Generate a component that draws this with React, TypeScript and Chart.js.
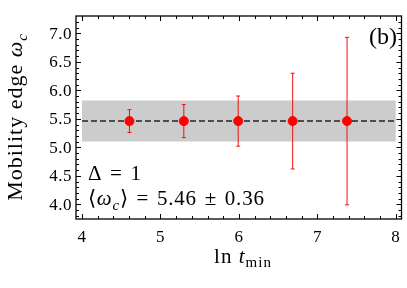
import React, { useEffect, useRef } from "react";
import { Chart, registerables } from "chart.js";

Chart.register(...registerables);

// ---- data ----
const lnTmin: number[] = [4.605, 5.298, 5.991, 6.685, 7.378];
const omegaC: number[] = [5.46, 5.46, 5.46, 5.46, 5.46];
const omegaErr: number[] = [0.2, 0.29, 0.44, 0.84, 1.47];
const meanOmega = 5.46;
const sdOmega = 0.36;
const bandX: number[] = [4, 8];
const xMajorTicks: number[] = [4, 5, 6, 7, 8];
const xTickLabels: string[] = ["4", "5", "6", "7", "8"];
const yMajorTicks: number[] = [4.0, 4.5, 5.0, 5.5, 6.0, 6.5, 7.0];
const yTickLabels: string[] = ["4.0", "4.5", "5.0", "5.5", "6.0", "6.5", "7.0"];

const SERIF = '"Liberation Serif", "Times New Roman", serif';
const SP = "\u2004";

type Part = { t: string; size: number; italic?: boolean; dy?: number };

function setFont(ctx: CanvasRenderingContext2D, p: Part) {
  ctx.font = `${p.italic ? "italic " : ""}${p.size}px ${SERIF}`;
}

function richWidth(ctx: CanvasRenderingContext2D, parts: Part[]) {
  let w = 0;
  for (const p of parts) {
    setFont(ctx, p);
    w += ctx.measureText(p.t).width;
  }
  return w;
}

function drawRich(
  ctx: CanvasRenderingContext2D,
  parts: Part[],
  x: number,
  y: number,
  align: "left" | "center" | "right",
  spacing = 0
) {
  (ctx as any).letterSpacing = `${spacing}px`;
  const w = richWidth(ctx, parts);
  let cx = align === "left" ? x : align === "center" ? x - w / 2 : x - w;
  ctx.textAlign = "left";
  ctx.textBaseline = "alphabetic";
  for (const p of parts) {
    setFont(ctx, p);
    ctx.fillText(p.t, cx, y + (p.dy || 0));
    cx += ctx.measureText(p.t).width;
  }
  (ctx as any).letterSpacing = "0px";
}

const decorPlugin = {
  id: "decor",
  afterDatasetDraw(chart: any, args: any) {
    if (args.index !== 1) return;
    const ctx: CanvasRenderingContext2D = chart.ctx;
    const xs = chart.scales.x;
    const ys = chart.scales.y;
    ctx.save();
    ctx.strokeStyle = "#ee1111";
    ctx.lineWidth = 1;
    for (let i = 0; i < lnTmin.length; i++) {
      const px = xs.getPixelForValue(lnTmin[i]);
      const top = ys.getPixelForValue(omegaC[i] + omegaErr[i]);
      const bot = ys.getPixelForValue(omegaC[i] - omegaErr[i]);
      ctx.beginPath();
      ctx.moveTo(px, top);
      ctx.lineTo(px, bot);
      ctx.moveTo(px - 2, top);
      ctx.lineTo(px + 2, top);
      ctx.moveTo(px - 2, bot);
      ctx.lineTo(px + 2, bot);
      ctx.stroke();
    }
    ctx.restore();
  },
  afterDraw(chart: any) {
    const ctx: CanvasRenderingContext2D = chart.ctx;
    const xs = chart.scales.x;
    const ys = chart.scales.y;
    const a = chart.chartArea;
    ctx.save();
    ctx.strokeStyle = "#000";
    ctx.lineWidth = 1;
    // ticks
    ctx.beginPath();
    for (let v = 4; v <= 8.0001; v += 0.2) {
      const major = Math.abs(v - Math.round(v)) < 1e-6;
      const len = major ? 5 : 3;
      const px = Math.round(xs.getPixelForValue(v)) + 0.5;
      ctx.moveTo(px, a.bottom);
      ctx.lineTo(px, a.bottom - len);
      ctx.moveTo(px, a.top);
      ctx.lineTo(px, a.top + len);
    }
    for (let k = 38; k <= 72; k++) {
      const v = k / 10;
      const major = k % 5 === 0;
      const len = major ? 5 : 3;
      const py = Math.round(ys.getPixelForValue(v)) + 0.5;
      ctx.moveTo(a.left, py);
      ctx.lineTo(a.left + len, py);
      ctx.moveTo(a.right, py);
      ctx.lineTo(a.right - len, py);
    }
    ctx.stroke();
    // frame
    ctx.lineWidth = 1.3;
    ctx.strokeRect(a.left, a.top, a.right - a.left, a.bottom - a.top);

    // tick labels
    ctx.fillStyle = "#000";
    (ctx as any).letterSpacing = "0.5px";
    ctx.font = `17px ${SERIF}`;
    ctx.textAlign = "center";
    ctx.textBaseline = "alphabetic";
    xMajorTicks.forEach((v, i) => {
      ctx.fillText(xTickLabels[i], xs.getPixelForValue(v), 242);
    });
    ctx.textAlign = "right";
    ctx.textBaseline = "middle";
    yMajorTicks.forEach((v, i) => {
      ctx.fillText(yTickLabels[i], 72, ys.getPixelForValue(v) + 1);
    });
    (ctx as any).letterSpacing = "0px";

    // x title
    drawRich(
      ctx,
      [
        { t: "ln ", size: 21 },
        { t: "t", size: 21, italic: true },
        { t: "min", size: 15, dy: 4 },
      ],
      243,
      263,
      "center",
      1
    );

    // y title
    ctx.save();
    ctx.translate(22, 117);
    ctx.rotate(-Math.PI / 2);
    drawRich(
      ctx,
      [
        { t: "Mobility edge ", size: 22 },
        { t: "ω", size: 22, italic: true },
        { t: "c", size: 15, italic: true, dy: 5 },
      ],
      0,
      0,
      "center",
      1
    );
    ctx.restore();

    // annotations
    drawRich(ctx, [{ t: "Δ" + SP + "=" + SP + "1", size: 21 }], 88, 180, "left", 0.8);
    drawRich(
      ctx,
      [
        { t: "⟨", size: 21 },
        { t: "ω", size: 21, italic: true },
        { t: "c", size: 15, italic: true, dy: 5 },
        { t: "⟩" + SP + "=" + SP + "5.46" + SP + "±" + SP + "0.36", size: 21 },
      ],
      88,
      205,
      "left",
      0.8
    );
    drawRich(ctx, [{ t: "(b)", size: 24 }], 397, 44, "right");
    ctx.restore();
  },
};

export default function App() {
  const ref = useRef<HTMLCanvasElement | null>(null);
  useEffect(() => {
    document.body.style.margin = "0";
    const canvas = ref.current;
    if (!canvas) return;
    const chart = new Chart(canvas, {
      type: "scatter",
      data: {
        datasets: [
          {
            label: "omega_c",
            data: lnTmin.map((x, i) => ({ x, y: omegaC[i] })),
            backgroundColor: "#ff0000",
            borderColor: "#ff0000",
            pointRadius: 4.5,
            pointHoverRadius: 4.5,
            showLine: false,
          },
          {
            label: "mean",
            type: "line",
            data: bandX.map((x) => ({ x, y: meanOmega })),
            borderColor: "#222",
            borderWidth: 1.5,
            borderDash: [6, 3],
            pointRadius: 0,
            fill: false,
          },
          {
            label: "band upper",
            type: "line",
            data: bandX.map((x) => ({ x, y: meanOmega + sdOmega })),
            borderWidth: 0,
            borderColor: "rgba(0,0,0,0)",
            backgroundColor: "#cccccc",
            pointRadius: 0,
            fill: "+1",
          },
          {
            label: "band lower",
            type: "line",
            data: bandX.map((x) => ({ x, y: meanOmega - sdOmega })),
            borderWidth: 0,
            borderColor: "rgba(0,0,0,0)",
            pointRadius: 0,
            fill: false,
          },
        ],
      },
      options: {
        responsive: false,
        animation: false,
        events: [],
        layout: { padding: { left: 76, right: 4, top: 16, bottom: 69 } },
        plugins: { legend: { display: false }, tooltip: { enabled: false } },
        scales: {
          x: { type: "linear", min: 3.924, max: 8.072, display: false },
          y: { type: "linear", min: 3.742, max: 7.304, display: false },
        },
      },
      plugins: [decorPlugin],
    } as any);
    return () => chart.destroy();
  }, []);
  return (
    <div style={{ width: 407, height: 288, background: "#fff" }}>
      <canvas ref={ref} width={407} height={288} style={{ display: "block" }} />
    </div>
  );
}
